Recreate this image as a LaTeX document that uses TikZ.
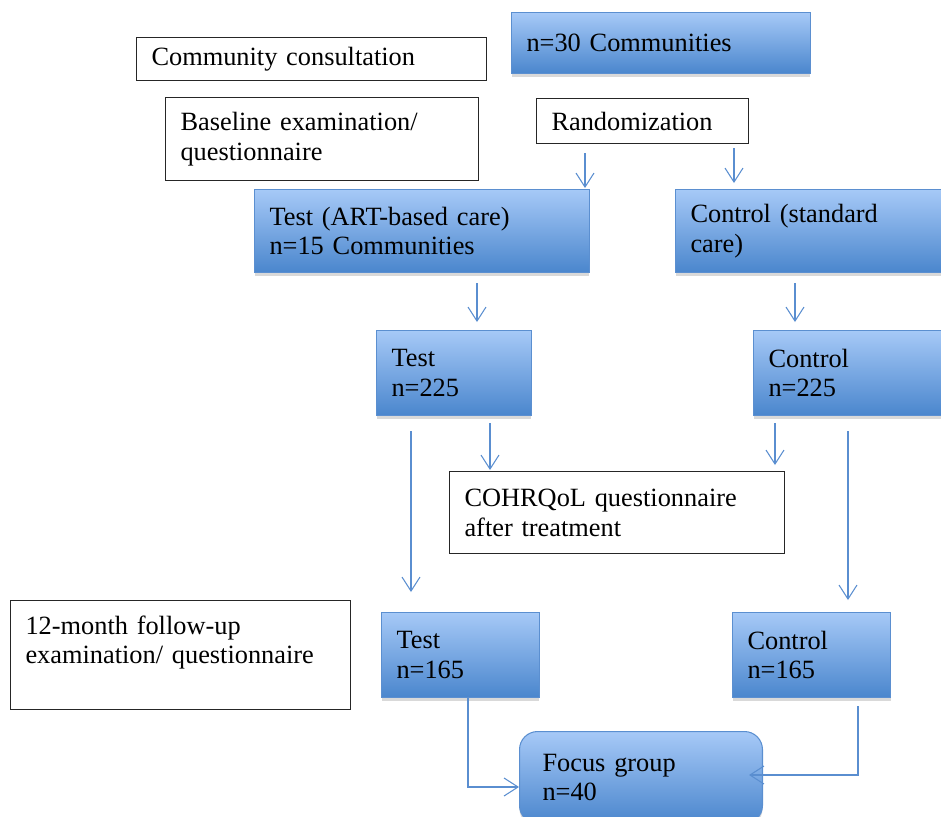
\documentclass[tikz,border=0pt]{standalone}
\usepackage{fontspec}
\setmainfont{Liberation Serif}
\usepackage{xcolor}
\definecolor{flowTop}{HTML}{A6C9F7}
\definecolor{flowBottom}{HTML}{4A86CD}
\definecolor{flowEdge}{HTML}{5B8FD0}
\definecolor{flowArrow}{HTML}{5A8ED0}
\definecolor{flowInk}{HTML}{262626}
\usepackage{tikz}
\usetikzlibrary{arrows.meta,shadows,calc}
\tikzset{
    whitebox/.style={
        draw=flowInk,
        fill=white,
        rectangle,
        anchor=north west,
        align=left,
        inner xsep=0.3cm,
        line width=0.6pt,
        font=\fontsize{15}{17}\selectfont
    },
    bluebox/.style={
        draw=flowEdge,
        top color=flowTop,
        bottom color=flowBottom,
        rectangle,
        anchor=north west,
        align=left,
        inner xsep=0.3cm,
        line width=0.6pt,
        drop shadow={shadow xshift=0pt, shadow yshift=-0.07cm, opacity=0.3},
        font=\fontsize{15}{17}\selectfont
    },
    flow/.style={
        ->,
        >={Straight Barb[length=0.28cm,width=0.36cm]},
        line width=0.6pt,
        color=flowArrow
    }
}
\begin{document}
\begin{tikzpicture}[x=0.02cm,y=-0.02cm]
    \clip (0,0) rectangle (941,816);

    % top row
    \node[whitebox, text width=6.4cm, minimum height=0.86cm] (commcons) at (136,37) {Community consultation};
    \node[bluebox, text width=5.38cm, minimum height=1.22cm] (n30) at (511,12) {n=30 Communities};
    \node[whitebox, text width=5.66cm, minimum height=1.66cm] (baseline) at (165,97) {Baseline examination/\\questionnaire};
    \node[whitebox, text width=3.64cm, minimum height=0.9cm] (rand) at (536,98) {Randomization};

    % arms
    \node[bluebox, text width=6.1cm, minimum height=1.66cm] (testart) at (254,189) {Test (ART-based care)\\n=15 Communities};
    \node[bluebox, text width=5.4cm, minimum height=1.66cm] (ctrlstd) at (675,189) {Control (standard\\care)};
    \node[bluebox, text width=2.5cm, minimum height=1.7cm] (test225) at (376,330) {Test\\n=225};
    \node[bluebox, text width=3.4cm, minimum height=1.7cm] (ctrl225) at (753,330) {Control\\n=225};
    \node[whitebox, text width=6.1cm, minimum height=1.64cm] (cohrqol) at (449,471) {COHRQoL questionnaire\\after treatment};

    % follow-up
    \node[whitebox, text width=6.2cm, inner ysep=0.3cm, text depth=1.2cm] (followup) at (10,600) {12-month follow-up\\examination/ questionnaire};
    \node[bluebox, text width=2.56cm, minimum height=1.7cm] (test165) at (381,612) {Test\\n=165};
    \node[bluebox, text width=2.56cm, minimum height=1.7cm] (ctrl165) at (732,612) {Control\\n=165};
    \node[bluebox, rounded corners=0.36cm, inner xsep=0.46cm, text width=3.94cm, minimum height=1.84cm] (focus) at (519,731) {Focus group\\n=40};

    % connectors
    \draw[flow] ($(rand.south west)+(49,9)$) -- ($(testart.north west)+(331,-1)$);
    \draw[flow] ($(rand.south west)+(198,4)$) -- ($(ctrlstd.north west)+(59,-6)$);
    \draw[flow] ($(testart.south west)+(223,10)$) -- ($(test225.north west)+(101,-8)$);
    \draw[flow] ($(ctrlstd.south west)+(120,10)$) -- ($(ctrl225.north west)+(42,-8)$);
    \draw[flow] ($(test225.south west)+(35,15)$) -- ($(test165.north west)+(30,-20)$);
    \draw[flow] ($(test225.south west)+(114,7)$) -- ($(cohrqol.north west)+(41,-1)$);
    \draw[flow] ($(ctrl225.south west)+(22,7)$) -- ($(cohrqol.north west)+(326,-6)$);
    \draw[flow] ($(ctrl225.south west)+(95,15)$) -- ($(ctrl165.north west)+(116,-12)$);
    \draw[flow] ($(test165.south west)+(87,0)$) |- ($(focus.north west)+(0,56)$);
    \draw[flow] ($(ctrl165.south west)+(126,8)$) |- ($(focus.north east)+(-14,44)$);
\end{tikzpicture}
\end{document}
